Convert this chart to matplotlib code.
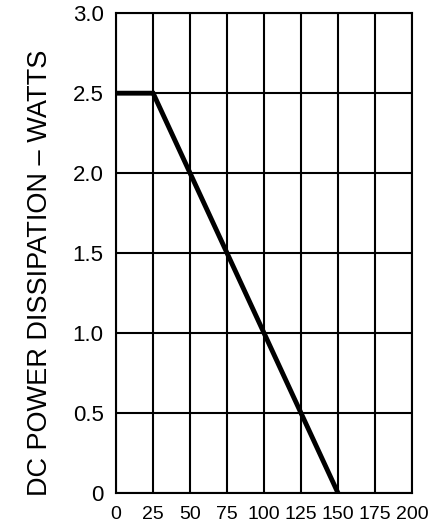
import numpy as np
import matplotlib.pyplot as plt

plt.rcParams['font.family'] = ['Liberation Sans', 'DejaVu Sans']

# Derating curve data
temp_c = [0, 25, 150]
power_w = [2.5, 2.5, 0.0]

x_ticks = [0, 25, 50, 75, 100, 125, 150, 175, 200]
y_ticks = [0, 0.5, 1.0, 1.5, 2.0, 2.5, 3.0]
y_tick_labels = ['0', '0.5', '1.0', '1.5', '2.0', '2.5', '3.0']

fig = plt.figure(figsize=(4.35, 5.29), dpi=100)
ax = fig.add_axes([0.267, 0.068, 0.68, 0.907])

ax.plot(temp_c, power_w, color='black', linewidth=3.5, solid_capstyle='butt',
        solid_joinstyle='miter', zorder=3)

ax.set_xlim(0, 200)
ax.set_ylim(0, 3.0)
ax.set_xticks(x_ticks)
ax.set_yticks(y_ticks)
ax.set_yticklabels(y_tick_labels)
ax.grid(True, color='black', linewidth=1.5)
for s in ax.spines.values():
    s.set_linewidth(1.5)
ax.tick_params(axis='both', length=0)
ax.tick_params(axis='x', pad=9, labelsize=14)
ax.tick_params(axis='y', pad=9, labelsize=16)

ax.set_ylabel('DC POWER DISSIPATION \u2013 WATTS', fontsize=19.5)
ax.yaxis.set_label_coords(-0.215, 0.46)

fig.savefig('out.png', dpi=100)
